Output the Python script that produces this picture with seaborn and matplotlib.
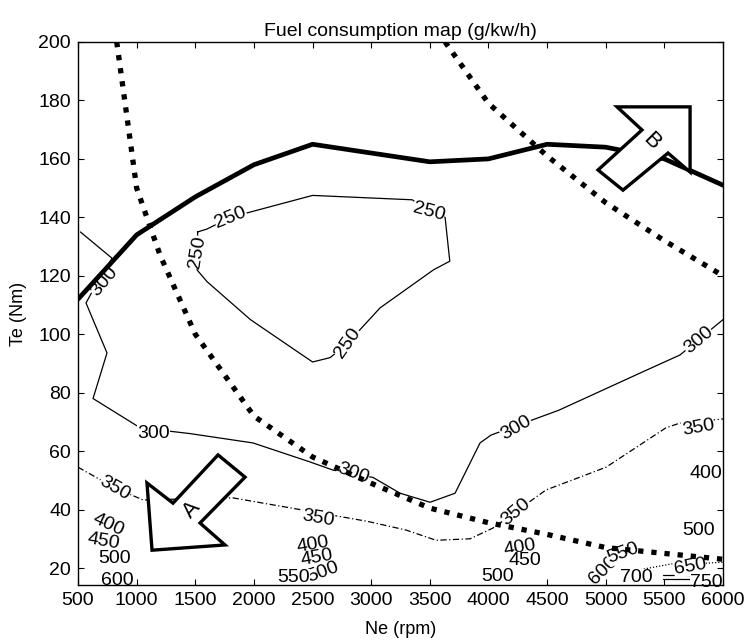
import matplotlib
matplotlib.use("Agg")
import matplotlib.pyplot as plt
import seaborn as sns

# max torque curve (thick solid)
max_rpm = [500, 1000, 1500, 2000, 2500, 3500, 4000, 4500, 5000, 5500, 6000]
max_te = [112, 134, 147, 158, 165, 159, 160, 165, 164, 160, 151]

# constant power curves (thick dotted)
pow_lo_rpm = [830, 1000, 1200, 1500, 2000, 2500, 3000, 3500, 4000, 4500, 5000, 5500, 6000]
pow_lo_te = [200, 150, 127, 100, 72, 58, 49, 40.5, 35.5, 31.5, 27, 25, 23]
pow_hi_rpm = [3630, 4000, 4500, 5000, 5500, 6000]
pow_hi_te = [200, 179, 161, 145, 132, 120]

# iso-consumption lines
c250_rpm = [1520, 1600, 1800, 2500, 3350, 3500, 3630, 3670, 3530, 3075, 2800, 2650, 2500, 1970, 1600, 1515, 1520]
c250_te = [135, 136, 140, 147.5, 146, 142, 140, 125, 122, 109, 97, 92, 90.5, 105, 118, 122, 135]
c300_rpm = [520, 790, 620, 568, 747, 628, 1029, 1455, 1992, 2478, 2675, 3015, 3246, 3502, 3715, 3928, 4022,
            4600, 5292, 5633, 6000]
c300_te = [135, 126, 114.5, 110.7, 93.6, 78, 68, 66, 62.8, 56.3, 53.5, 51, 45.6, 42.5, 45.6, 62.8, 65.5,
           74, 86.7, 92.9, 105]
c350_rpm = [500, 815, 1054, 1822, 2393, 2964, 3297, 3553, 3843, 4039, 4490, 5003, 5514, 5633, 6000]
c350_te = [54.5, 47.4, 43.3, 44, 40, 36, 33, 29.5, 30, 33.7, 46.7, 54.5, 68, 69.6, 71]
c650_rpm = [5140, 5574, 5800, 6000]
c650_te = [18.3, 21.5, 21.5, 22]
c700_rpm = [5180, 5260]
c700_te = [15.9, 16.4]
c750a_rpm = [5488, 6000]
c750a_te = [17.6, 17.6]
c750b_rpm = [5488, 6000]
c750b_te = [16.2, 16.2]

# contour labels
lab_txt = ["250", "250", "250", "250", "300", "300", "300", "300", "300",
           "350", "350", "350", "350", "400", "500",
           "400", "450", "500", "600",
           "400", "450", "500", "550",
           "400", "450", "500", "600", "550", "650", "700", "750"]
lab_rpm = [1800, 1520, 3490, 2800, 720, 1140, 2845, 4235, 5790,
           815, 2547, 4235, 5790, 5855, 5790,
           756, 713, 815, 832,
           2504, 2538, 2590, 2335,
           4270, 4312, 4081, 4977, 5147, 5718, 5258, 5860]
lab_te = [140, 128, 142, 97, 118, 66, 52.5, 68, 98,
          47.4, 37, 39, 68, 52.5, 33,
          34.7, 29, 23.4, 15.8,
          27.9, 23.4, 18.6, 16.8,
          27, 22.6, 17, 19.3, 25, 20.3, 16.6, 15.2]
lab_rot = [22, 80, -15, 55, 50, 0, -20, 30, 40,
           -30, -10, 40, 10, 0, 0,
           -25, -10, 0, 0,
           10, 10, 20, 0,
           10, 0, 0, 45, 20, 10, 0, 0]

# hollow arrows A and B
arrA_rpm = [1088, 1310, 1694, 1924, 1540, 1753, 1131]
arrA_te = [49.1, 42.2, 58.7, 51.1, 35.4, 27.9, 26.1]
arrB_rpm = [5096, 5719, 5719, 5531, 5147, 4934, 5309]
arrB_te = [177.8, 177.8, 155.5, 162, 149.3, 156.2, 169.9]

sns.set_style("ticks")
plt.rcParams['font.family'] = ['Liberation Sans', 'DejaVu Sans']
plt.rcParams['text.color'] = 'black'
plt.rcParams['axes.labelcolor'] = 'black'
plt.rcParams['xtick.color'] = 'black'
plt.rcParams['ytick.color'] = 'black'

fig = plt.figure(figsize=(7.46, 6.41), dpi=100)
ax = fig.add_axes([0.1046, 0.0874, 0.8646, 0.8471])

thin = dict(color="black", linewidth=0.9, sort=False, estimator=None, ax=ax, legend=False)
sns.lineplot(x=c250_rpm, y=c250_te, **thin)
sns.lineplot(x=c300_rpm, y=c300_te, **thin)
l350 = sns.lineplot(x=c350_rpm, y=c350_te, **thin).lines[-1]
l350.set_linestyle((0, (5, 2, 1, 2)))
l650 = sns.lineplot(x=c650_rpm, y=c650_te, **thin).lines[-1]
l650.set_linestyle((0, (1, 1.5)))
l700 = sns.lineplot(x=c700_rpm, y=c700_te, **thin).lines[-1]
l700.set_linestyle((0, (4, 2, 1, 2)))
sns.lineplot(x=c750a_rpm, y=c750a_te, **thin)
sns.lineplot(x=c750b_rpm, y=c750b_te, **thin)

# labels sit above thin lines but under the frame
for t, xx, yy, r in zip(lab_txt, lab_rpm, lab_te, lab_rot):
    ax.text(xx, yy, t, rotation=r, ha="center", va="center", fontsize=14,
            rotation_mode="anchor", zorder=2.2,
            bbox=dict(facecolor="white", edgecolor="none", pad=0.2))

# power lines and max torque
for px, py in [(pow_lo_rpm, pow_lo_te), (pow_hi_rpm, pow_hi_te)]:
    ln = sns.lineplot(x=px, y=py, color="black", linewidth=3.8, sort=False,
                      estimator=None, ax=ax, legend=False).lines[-1]
    ln.set_linestyle((0, (1, 1.5)))
    ln.set_zorder(4)
mt = sns.lineplot(x=max_rpm, y=max_te, color="black", linewidth=3.4, sort=False,
                  estimator=None, ax=ax, legend=False).lines[-1]
mt.set_zorder(4)

# the two arrows
ax.fill(arrA_rpm, arrA_te, facecolor="white", edgecolor="black", linewidth=2.4, zorder=5)
ax.fill(arrB_rpm, arrB_te, facecolor="white", edgecolor="black", linewidth=2.4, zorder=5)
ax.text(1472, 40, "A", rotation=48, ha="center", va="center", fontsize=16, zorder=6)
ax.text(5390, 166, "B", rotation=-45, ha="center", va="center", fontsize=16, zorder=6)

ax.set_xlim(500, 6000)
ax.set_ylim(14.2, 200)
ax.set_xticks(range(500, 6001, 500))
ax.set_yticks(range(20, 201, 20))
ax.tick_params(direction="in", top=True, right=True, length=4, width=0.8,
               labelsize=14, pad=5)
for s in ax.spines.values():
    s.set_linewidth(1.0)
    s.set_color("black")
ax.set_title("Fuel consumption map (g/kw/h)", fontsize=14, pad=4)
ax.set_xlabel("Ne (rpm)", fontsize=13, labelpad=9)
ax.set_ylabel("Te (Nm)", fontsize=13, labelpad=8)

fig.savefig("out.png", dpi=100)
